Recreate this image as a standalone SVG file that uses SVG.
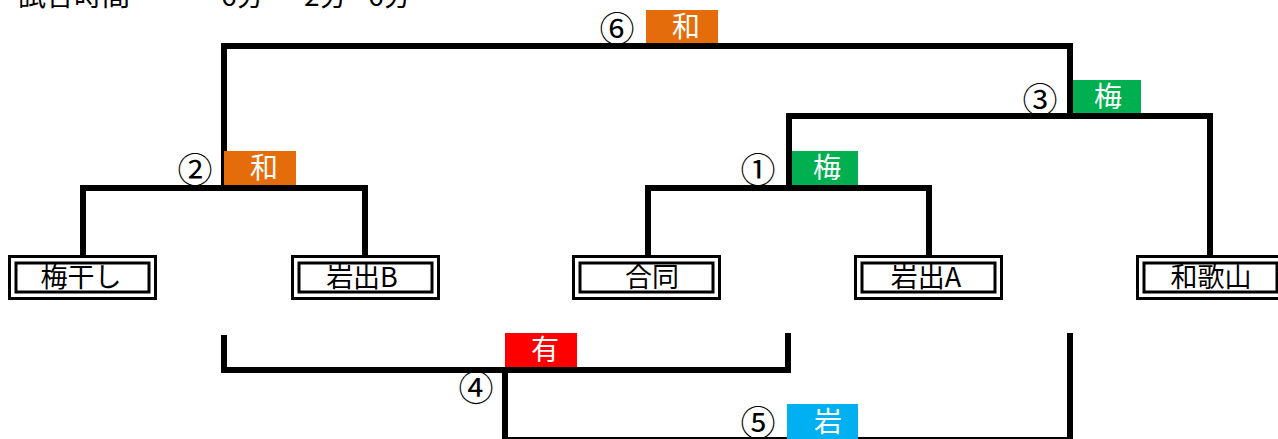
<svg xmlns="http://www.w3.org/2000/svg" width="1278" height="439" viewBox="0 0 1278 439">
<style>
text{font-family:"Noto Sans CJK JP","Noto Sans",sans-serif;fill:#000}
.hdr{font-size:28px}
.nt{font-size:27px;text-anchor:middle}
.num{font-size:35px;text-anchor:middle}
.lb{font-size:28px;text-anchor:middle;fill:#fff}
.ob{fill:none;stroke:#000;stroke-width:3}
.ln{fill:none;stroke:#000;stroke-width:6;stroke-linejoin:miter;stroke-linecap:butt}
.wa{fill:#E46C0A}.ume{fill:#00B050}.ari{fill:#FF0000}.iwa{fill:#00B0F0}
</style>
<rect width="1278" height="439" fill="#fff"/>
<g id="header">
<text class="hdr" x="18" y="6">試合時間</text>
<text class="hdr" x="221" y="6">6分</text>
<text class="hdr" x="304" y="6">2分</text>
<text class="hdr" x="368" y="6">6分</text>
</g>
<g id="connectors">
<path class="ln" d="M83,255 V188 H365 V255"/>
<path class="ln" d="M648,255 V188 H929 V255"/>
<path class="ln" d="M789,188 V116 H1210 V255"/>
<path class="ln" d="M224,188 V46 H1070 V116"/>
<path class="ln" d="M224,335 V370 H788 V333"/>
<path class="ln" d="M505,370 V440 H1070 V333"/>
</g>
<g id="node-umeboshi">
<rect class="ob" x="9.5" y="256.5" width="146" height="42"/>
<rect class="ob" x="16" y="263" width="133" height="29"/>
<text class="nt" x="81" y="287">梅干し</text>
</g>
<g id="node-iwadeB">
<rect class="ob" x="292.5" y="256.5" width="146" height="42"/>
<rect class="ob" x="299" y="263" width="133" height="29"/>
<text class="nt" x="362" y="287">岩出B</text>
</g>
<g id="node-godo">
<rect class="ob" x="573.5" y="256.5" width="146" height="42"/>
<rect class="ob" x="580" y="263" width="133" height="29"/>
<text class="nt" x="652" y="287">合同</text>
</g>
<g id="node-iwadeA">
<rect class="ob" x="855.5" y="256.5" width="146" height="42"/>
<rect class="ob" x="862" y="263" width="133" height="29"/>
<text class="nt" x="926" y="287">岩出A</text>
</g>
<g id="node-wakayama">
<rect class="ob" x="1137.5" y="256.5" width="146" height="42"/>
<rect class="ob" x="1144" y="263" width="133" height="29"/>
<text class="nt" x="1211" y="287">和歌山</text>
</g>
<g id="match6">
<text class="num" x="617" y="42">⑥</text>
<rect class="wa" x="646" y="10" width="72" height="33"/>
<text class="lb" x="686" y="37">和</text>
</g>
<g id="match3">
<text class="num" x="1040" y="113">③</text>
<rect class="ume" x="1073" y="80" width="68" height="33"/>
<text class="lb" x="1108" y="107">梅</text>
</g>
<g id="match2">
<text class="num" x="195" y="183">②</text>
<rect class="wa" x="224" y="151" width="72" height="34"/>
<text class="lb" x="264" y="178">和</text>
</g>
<g id="match1">
<text class="num" x="758" y="183">①</text>
<rect class="ume" x="792" y="151" width="66" height="34"/>
<text class="lb" x="827" y="178">梅</text>
</g>
<g id="match4">
<text class="num" x="476" y="401">④</text>
<rect class="ari" x="505" y="333" width="72" height="34"/>
<text class="lb" x="545" y="360">有</text>
</g>
<g id="match5">
<text class="num" x="758" y="436">⑤</text>
<rect class="iwa" x="787" y="404" width="71" height="36"/>
<text class="lb" x="828" y="432">岩</text>
</g>
</svg>
